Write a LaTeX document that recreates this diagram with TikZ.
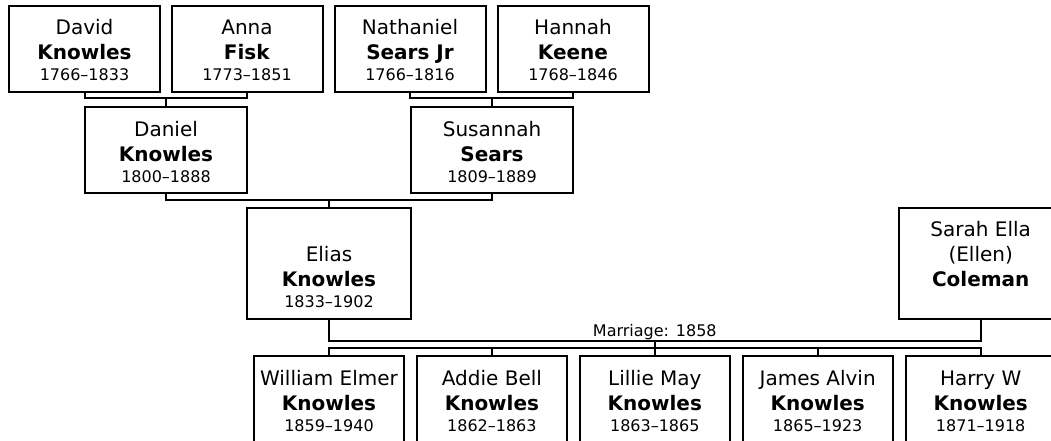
\documentclass[tikz,border=0pt]{standalone}
\usepackage{fontspec}
\setmainfont{DejaVu Sans}
\usepackage{tikz}
\newcommand{\datefont}{\fontsize{16}{21}\selectfont}
\newcommand{\headstrut}{\rule{0pt}{22pt}}
\newcommand{\footstrut}{\rule[-4pt]{0pt}{4pt}}
\tikzset{
	personbox/.style={draw, line width=2pt, inner sep=0pt, align=center,
		minimum width=151pt, minimum height=86pt,
		font=\fontsize{20}{25}\selectfont},
	parentbox/.style={personbox, minimum width=162pt},
	couplebox/.style={personbox, minimum width=164pt, minimum height=110.5pt},
	childbox/.style={personbox, minimum width=150pt},
	treeline/.style={line width=2pt},
	marriagetag/.style={inner sep=0pt, anchor=base, font=\fontsize{16}{19}\selectfont}
}

\begin{document}
\begin{tikzpicture}[x=1pt, y=-1pt]
	\clip (0,0) rectangle (1051,441);
	% grandparents
	\node[personbox] (david) at (84.5,49) {\headstrut David\\\textbf{Knowles}\\[-4pt]{\datefont\footstrut 1766–1833}};
	\node[personbox] (anna) at (247,49) {\headstrut Anna\\\textbf{Fisk}\\[-4pt]{\datefont\footstrut 1773–1851}};
	\node[personbox] (nathaniel) at (410,49) {\headstrut Nathaniel\\\textbf{Sears Jr}\\[-4pt]{\datefont\footstrut 1766–1816}};
	\node[personbox] (hannah) at (573,49) {\headstrut Hannah\\\textbf{Keene}\\[-4pt]{\datefont\footstrut 1768–1846}};
	% parents
	\node[parentbox] (daniel) at (166,150) {\headstrut Daniel\\\textbf{Knowles}\\[-4pt]{\datefont\footstrut 1800–1888}};
	\node[parentbox] (susannah) at (492,150) {\headstrut Susannah\\\textbf{Sears}\\[-4pt]{\datefont\footstrut 1809–1889}};
	% couple
	\node[couplebox] (elias) at (329,263.25) {\headstrut\\Elias\\\textbf{Knowles}\\[-4pt]{\datefont\footstrut 1833–1902}};
	\node[couplebox] (sarah) at (980.7,263.25) {\headstrut Sarah Ella\\(Ellen)\\\textbf{Coleman}\\[-4pt]{\datefont\footstrut}};
	% children
	\node[childbox] (william) at (329,399) {\headstrut William Elmer\\\textbf{Knowles}\\[-4pt]{\datefont\footstrut 1859–1940}};
	\node[childbox] (addie) at (491.9,399) {\headstrut Addie Bell\\\textbf{Knowles}\\[-4pt]{\datefont\footstrut 1862–1863}};
	\node[childbox] (lillie) at (654.8,399) {\headstrut Lillie May\\\textbf{Knowles}\\[-4pt]{\datefont\footstrut 1863–1865}};
	\node[childbox] (james) at (817.7,399) {\headstrut James Alvin\\\textbf{Knowles}\\[-4pt]{\datefont\footstrut 1865–1923}};
	\node[childbox] (harry) at (980.7,399) {\headstrut Harry W\\\textbf{Knowles}\\[-4pt]{\datefont\footstrut 1871–1918}};

	\coordinate (knowlesfisk) at (166,98.5);
	\coordinate (searskeene) at (492,98.5);
	\coordinate (knowlessears) at (329,199.5);
	\coordinate (marriage) at (654.8,340.7);
	\coordinate (kids) at (654.8,347.7);

	\draw[treeline] (david.south) |- (knowlesfisk) -| (anna.south);
	\draw[treeline] (knowlesfisk) -- (daniel.north);
	\draw[treeline] (nathaniel.south) |- (searskeene) -| (hannah.south);
	\draw[treeline] (searskeene) -- (susannah.north);
	\draw[treeline] (daniel.south) |- (knowlessears) -| (susannah.south);
	\draw[treeline] (knowlessears) -- (elias.north);
	\draw[treeline] (elias.south) |- (marriage) -| (sarah.south);
	\node[marriagetag] (marriagetext) at (654.8,336.5) {Marriage: 1858};
	\draw[treeline] (marriage) -- (kids);
	\draw[treeline] (william.north) |- (kids) -| (harry.north);
	\draw[treeline] (addie.north) -- (addie.north |- kids);
	\draw[treeline] (lillie.north) -- (lillie.north |- kids);
	\draw[treeline] (james.north) -- (james.north |- kids);
\end{tikzpicture}
\end{document}
